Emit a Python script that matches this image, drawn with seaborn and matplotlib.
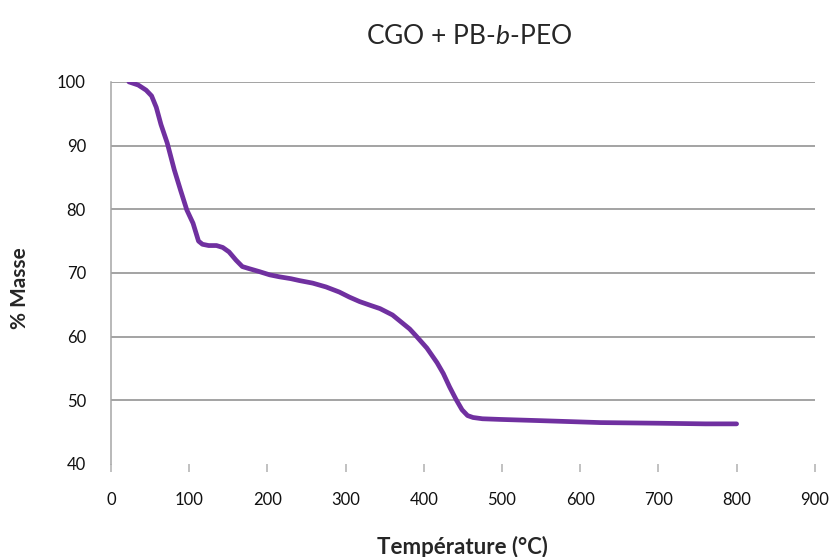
import matplotlib
matplotlib.use("Agg")
import matplotlib.pyplot as plt
import seaborn as sns
import pandas as pd

temperature = [23, 35, 45, 52, 58, 64, 72, 81, 89, 97, 105, 112, 117, 125, 135, 143, 151, 160, 168, 176,
               190, 203, 215, 230, 241, 258, 275, 292, 305, 318, 332, 344, 360, 372, 382, 391, 404,
               417, 425, 433, 441, 449, 456, 463, 475, 497, 550, 626, 700, 760, 800]
masse = [100, 99.5, 98.7, 97.8, 96.0, 93.3, 90.4, 86.2, 83.0, 79.9, 77.8, 75.0, 74.5, 74.3, 74.3, 74.0, 73.3,
         72.0, 71.0, 70.7, 70.2, 69.7, 69.4, 69.1, 68.8, 68.4, 67.8, 67.0, 66.2, 65.5, 64.9, 64.4,
         63.4, 62.2, 61.2, 60.0, 58.2, 55.9, 54.2, 52.1, 50.2, 48.5, 47.6, 47.3, 47.1, 47.0, 46.8,
         46.5, 46.4, 46.3, 46.3]

title = "CGO + PB-$\\mathit{b}$-PEO"
xlabel = "Température (°C)"
ylabel = "% Masse"

sns.set_theme(style="white")
plt.rcParams["font.family"] = ["Lato", "DejaVu Sans"]
plt.rcParams["mathtext.fontset"] = "custom"
plt.rcParams["mathtext.it"] = "Lato:italic"
plt.rcParams["mathtext.rm"] = "Lato"

df = pd.DataFrame({"T": temperature, "M": masse})

fig = plt.figure(figsize=(8.34, 5.57), dpi=100)
ax = fig.add_axes([0.133, 0.167, 0.844, 0.686])

ax.set_xlim(0, 900)
ax.set_ylim(40, 100)
ax.set_xticks(range(0, 901, 100))
ax.set_yticks(range(40, 101, 10))
for y in range(50, 101, 10):
    ax.axhline(y, color="#8a8a8a", lw=1.1, zorder=1)

sns.lineplot(data=df, x="T", y="M", ax=ax, color="#7030A0", lw=3.4, zorder=3)

for s in ["top", "right", "bottom"]:
    ax.spines[s].set_visible(False)
ax.spines["left"].set_color("#a6a6a6")
ax.spines["left"].set_linewidth(1.1)

ax.tick_params(axis="y", length=6, width=1.1, color="#8a8a8a", labelsize=12, pad=12, labelcolor="#111111")
ax.tick_params(axis="x", length=6, width=1.1, color="#b0b0b0", labelsize=12, pad=14, labelcolor="#111111",
               bottom=True, direction="out")
ax.xaxis.set_ticks_position("bottom")

ax.set_xlabel(xlabel, fontsize=16, fontweight="bold", labelpad=20)
ax.set_ylabel(ylabel, fontsize=15, fontweight="bold")
ax.yaxis.set_label_coords(-0.115, 0.46)
fig.text(0.562, 0.935, title, fontsize=19, ha="center", va="center")

fig.savefig("out.png", dpi=100)
